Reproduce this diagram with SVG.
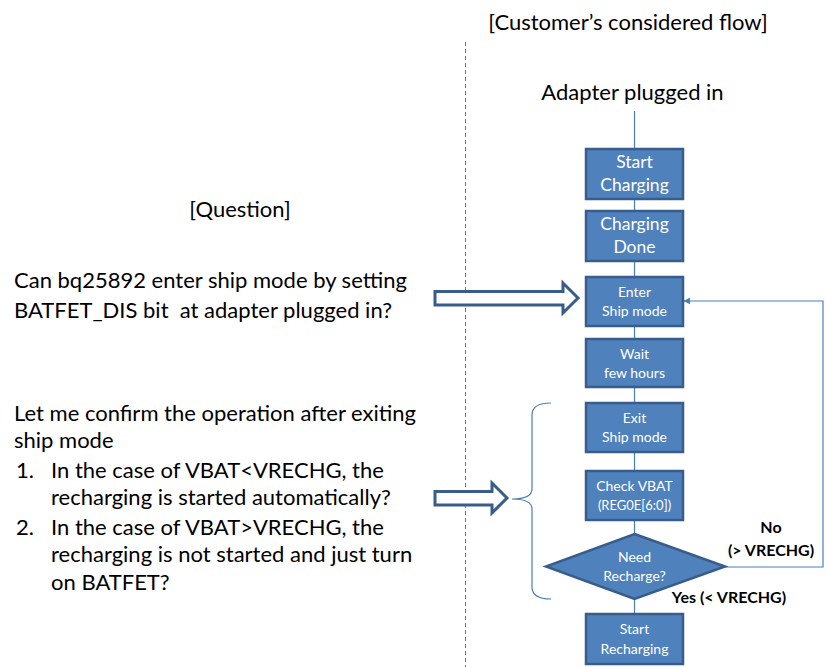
<svg xmlns="http://www.w3.org/2000/svg" width="829" height="667" viewBox="0 0 829 667">
<defs>
<style>
.t{font-family:Lato,"Open Sans","Liberation Sans",sans-serif;fill:#000;font-size:22px}
.box{fill:#4F81BD;stroke:#385D8A;stroke-width:2.5}
.bt{font-family:Lato,"Open Sans","Liberation Sans",sans-serif;fill:#fff;text-anchor:middle}
.big{font-size:17.5px}
.sm{font-size:14px}
.lbl{font-family:Lato,"Open Sans","Liberation Sans",sans-serif;font-weight:bold;font-size:16px;fill:#000;text-anchor:middle}
.con{fill:none;stroke:#4A7EBB;stroke-width:1.2}
.blk{fill:#fff;stroke:#385D8A;stroke-width:3;stroke-linejoin:miter}
</style>
<marker id="ah" viewBox="0 0 10 10" refX="9" refY="5" markerWidth="7" markerHeight="7" orient="auto" markerUnits="userSpaceOnUse">
<path d="M0,0 L10,5 L0,10 z" fill="#4A7EBB"/>
</marker>
</defs>
<rect width="829" height="667" fill="#fff"/>
<line x1="465.5" y1="42" x2="465.5" y2="667" stroke="#4A7EBB" stroke-width="1" stroke-dasharray="4,3"/>
<text class="t" x="628" y="30" text-anchor="middle">[Customer’s considered flow]</text>
<text class="t" x="632.5" y="100" text-anchor="middle">Adapter plugged in</text>
<text class="t" x="240" y="217" text-anchor="middle">[Question]</text>
<text class="t" x="14" y="288">Can bq25892 enter ship mode by setting</text>
<text class="t" x="14" y="318" xml:space="preserve">BATFET_DIS bit  at adapter plugged in?</text>
<text class="t" x="14" y="421">Let me confirm the operation after exiting</text>
<text class="t" x="14" y="448">ship mode</text>
<text class="t" x="16" y="478">1.</text>
<text class="t" x="51" y="478">In the case of VBAT&lt;VRECHG, the</text>
<text class="t" x="51" y="505">recharging is started automatically?</text>
<text class="t" x="16" y="535">2.</text>
<text class="t" x="51" y="535">In the case of VBAT&gt;VRECHG, the</text>
<text class="t" x="51" y="562">recharging is not started and just turn</text>
<text class="t" x="51" y="590">on BATFET?</text>
<g id="connectors">
<line class="con" x1="634.5" y1="111" x2="634.5" y2="149"/>
<line class="con" x1="634.5" y1="199" x2="634.5" y2="211"/>
<line class="con" x1="634.5" y1="261" x2="634.5" y2="277"/>
<line class="con" x1="634.5" y1="326" x2="634.5" y2="339"/>
<line class="con" x1="634.5" y1="387" x2="634.5" y2="403"/>
<line class="con" x1="634.5" y1="452" x2="634.5" y2="471"/>
<line class="con" x1="634.5" y1="520" x2="634.5" y2="534"/>
<line class="con" x1="634.5" y1="599" x2="634.5" y2="614"/>
<polyline class="con" points="725,567 823,567 823,301 684,301" marker-end="url(#ah)"/>
<path class="con" d="M551,403 Q532,403 532,415 L532,489 Q532,499 512,499 Q532,499 532,509 L532,587 Q532,599 551,599"/>
<path class="blk" d="M435,291.5 L563,291.5 L563,283 L578,298 L563,313 L563,305 L435,305 z"/>
<path class="blk" d="M435,491.5 L492,491.5 L492,483 L507,498 L492,513 L492,505 L435,505 z"/>
</g>
<g id="start-charging"><rect class="box" x="586" y="149" width="97" height="50"/><text class="bt big" x="634.5" y="168">Start</text><text class="bt big" x="634.5" y="191">Charging</text></g>
<g id="charging-done"><rect class="box" x="586" y="211" width="97" height="50"/><text class="bt big" x="634.5" y="230">Charging</text><text class="bt big" x="634.5" y="253">Done</text></g>
<g id="enter-ship"><rect class="box" x="586" y="277" width="97" height="49"/><text class="bt sm" x="634.5" y="297">Enter</text><text class="bt sm" x="634.5" y="316">Ship mode</text></g>
<g id="wait"><rect class="box" x="586" y="339" width="97" height="48"/><text class="bt sm" x="634.5" y="359">Wait</text><text class="bt sm" x="634.5" y="378">few hours</text></g>
<g id="exit-ship"><rect class="box" x="586" y="403" width="97" height="49"/><text class="bt sm" x="634.5" y="423">Exit</text><text class="bt sm" x="634.5" y="442">Ship mode</text></g>
<g id="check-vbat"><rect class="box" x="586" y="471" width="97" height="49"/><text class="bt sm" x="634.5" y="491">Check VBAT</text><text class="bt" style="font-size:13px" x="634.5" y="510">(REG0E[6:0])</text></g>
<g id="need-recharge"><path class="box" d="M634.5,534 L725,566.5 L634.5,599 L546,566.5 z"/><text class="bt sm" x="634.5" y="562">Need</text><text class="bt sm" x="634.5" y="581">Recharge?</text></g>
<g id="start-recharging"><rect class="box" x="586" y="614" width="97" height="50"/><text class="bt sm" x="634.5" y="634">Start</text><text class="bt sm" x="634.5" y="654">Recharging</text></g>
<text class="lbl" x="771" y="533">No</text>
<text class="lbl" x="771" y="556">(&gt; VRECHG)</text>
<text class="lbl" x="729" y="603">Yes (&lt; VRECHG)</text>
</svg>
